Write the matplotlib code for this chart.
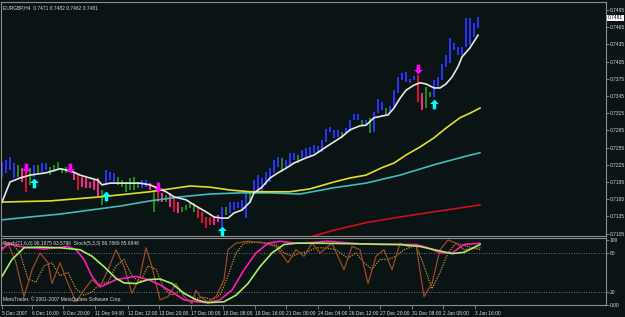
import numpy as np
import matplotlib
matplotlib.use("Agg")
import matplotlib.pyplot as plt
from matplotlib.path import Path

plt.rcParams["font.family"] = ["Liberation Sans", "DejaVu Sans"]

# Data (EURGBP H4, bar index 0..119)
highs = [
    0.7230, 0.7233, 0.7239, 0.7228, 0.7225, 0.7219, 0.7212, 0.7219, 0.7225, 0.7225,
    0.7228, 0.7228, 0.7221, 0.7225, 0.7230, 0.7219, 0.7221, 0.7225, 0.7212, 0.7211,
    0.7204, 0.7202, 0.7195, 0.7199, 0.7202, 0.7181, 0.7216, 0.7212, 0.7211, 0.7204,
    0.7199, 0.7195, 0.7202, 0.7204, 0.7195, 0.7199, 0.7199, 0.7193, 0.7181, 0.7181,
    0.7176, 0.7172, 0.7176, 0.7167, 0.7160, 0.7151, 0.7155, 0.7160, 0.7158, 0.7150,
    0.7143, 0.7134, 0.7134, 0.7134, 0.7138, 0.7151, 0.7151, 0.7160, 0.7160, 0.7160,
    0.7164, 0.7176, 0.7178, 0.7199, 0.7207, 0.7202, 0.7212, 0.7219, 0.7233, 0.7239,
    0.7237, 0.7233, 0.7246, 0.7246, 0.7242, 0.7251, 0.7254, 0.7256, 0.7260, 0.7258,
    0.7268, 0.7287, 0.7291, 0.7286, 0.7286, 0.7282, 0.7289, 0.7303, 0.7314, 0.7314,
    0.7303, 0.7303, 0.7307, 0.7317, 0.7340, 0.7335, 0.7324, 0.7328, 0.7355, 0.7378,
    0.7385, 0.7387, 0.7375, 0.7380, 0.7382, 0.7350, 0.7361, 0.7352, 0.7373, 0.7378,
    0.7401, 0.7417, 0.7446, 0.7437, 0.7430, 0.7430, 0.7481, 0.7481, 0.7472, 0.7483,
]
lows = [
    0.7204, 0.7211, 0.7216, 0.7202, 0.7204, 0.7195, 0.7178, 0.7190, 0.7204, 0.7211,
    0.7212, 0.7216, 0.7207, 0.7212, 0.7216, 0.7211, 0.7211, 0.7212, 0.7199, 0.7181,
    0.7186, 0.7185, 0.7185, 0.7181, 0.7169, 0.7155, 0.7190, 0.7199, 0.7193, 0.7190,
    0.7186, 0.7178, 0.7181, 0.7181, 0.7185, 0.7185, 0.7186, 0.7181, 0.7143, 0.7160,
    0.7160, 0.7160, 0.7151, 0.7143, 0.7141, 0.7143, 0.7146, 0.7150, 0.7143, 0.7132,
    0.7124, 0.7115, 0.7120, 0.7120, 0.7125, 0.7117, 0.7138, 0.7141, 0.7146, 0.7150,
    0.7146, 0.7132, 0.7160, 0.7176, 0.7181, 0.7176, 0.7190, 0.7195, 0.7211, 0.7221,
    0.7212, 0.7221, 0.7225, 0.7233, 0.7228, 0.7237, 0.7239, 0.7240, 0.7246, 0.7247,
    0.7247, 0.7265, 0.7282, 0.7272, 0.7274, 0.7272, 0.7281, 0.7282, 0.7303, 0.7303,
    0.7293, 0.7294, 0.7281, 0.7282, 0.7315, 0.7321, 0.7310, 0.7317, 0.7326, 0.7350,
    0.7373, 0.7369, 0.7368, 0.7373, 0.7335, 0.7321, 0.7324, 0.7343, 0.7343, 0.7361,
    0.7373, 0.7396, 0.7403, 0.7425, 0.7417, 0.7417, 0.7430, 0.7434, 0.7448, 0.7464,
]
bar_kind = ("bbbbgprgbg" "bbggggggpr" "pppppgbbbg" "gggggbbpgr" "pgprpggggr"
            "rrrppbgbbb" "bbgbbbbbbb" "gbbbgbbbbb" "bbbbbgbbbb" "gbgbbbgbbb"
            "bbbbrpggbb" "bbbbbbbbbb")

# moving averages (bar index, price)
white_x = [0, 2, 4.5, 7, 11, 14.5, 16, 18, 19.5, 22, 24, 25, 27, 34.5, 37, 39, 41, 43, 46, 48,
           51, 53, 55, 56.5, 58, 60, 62, 63, 65, 67, 69, 71, 73, 76, 78, 81, 83, 85, 87, 89.5,
           91, 93, 95, 96.5, 98, 99.5, 101, 103, 104.5, 106, 108, 109.5, 111, 112.5, 114, 115,
           117, 119]
white_y = [0.7160, 0.7195, 0.7202, 0.7207, 0.7211, 0.7218, 0.7216, 0.7212, 0.7207, 0.7202,
           0.7198, 0.7190, 0.7193, 0.7193, 0.7190, 0.7184, 0.7178, 0.7169, 0.7164, 0.7155,
           0.7143, 0.7134, 0.7132, 0.7132, 0.7141, 0.7146, 0.7160, 0.7176, 0.7186, 0.7202,
           0.7211, 0.7219, 0.7228, 0.7237, 0.7242, 0.7256, 0.7265, 0.7274, 0.7286, 0.7293,
           0.7294, 0.7307, 0.7310, 0.7312, 0.7324, 0.7341, 0.7355, 0.7364, 0.7368, 0.7366,
           0.7359, 0.7359, 0.7366, 0.7378, 0.7396, 0.7413, 0.7429, 0.7451]
yellow_x = [0, 12, 24.5, 37, 42, 47, 52, 57, 62, 72, 77, 83, 87, 91, 95, 98, 101, 104.5,
            108, 111, 114.5, 117, 119.5]
yellow_y = [0.7160, 0.7162, 0.7169, 0.7178, 0.7183, 0.7188, 0.7186, 0.7181, 0.7178, 0.7178,
            0.7183, 0.7195, 0.7202, 0.7207, 0.7220, 0.7228, 0.7242, 0.7256, 0.7272, 0.7289,
            0.7307, 0.7315, 0.7324]
teal_x = [0, 7, 14.5, 22, 29.5, 37, 44.5, 52, 59.5, 67, 74.5, 83, 91, 99.5, 108, 116, 119.5]
teal_y = [0.7129, 0.7134, 0.7139, 0.7146, 0.7153, 0.7162, 0.7169, 0.7174, 0.7176, 0.7176,
          0.7174, 0.7185, 0.7193, 0.7207, 0.7225, 0.7240, 0.7246]
red_x = [74.5, 79, 83, 91, 99.5, 108, 119.5]
red_y = [0.7094, 0.7103, 0.7111, 0.7124, 0.7134, 0.7143, 0.7155]

# signal arrows (bar index, price)
sell_x = [6, 17, 39, 104]
sell_y = [0.7220, 0.7220, 0.7187, 0.7392]
buy_x = [8, 26, 55, 108]
buy_y = [0.7194, 0.7171, 0.7110, 0.7331]

# stochastics
st21_main_x = [0, 1.5, 4.5, 7.5, 10.5, 13.5, 16.5, 18.5, 20.5, 22.5, 24.5, 26.5, 28.5, 30.5,
               33.5, 36.5, 39.5, 42.5, 45.5, 48.5, 51.5, 54.5, 57.5, 60.5, 63.5, 66.5, 69.5,
               73.5, 77.5, 81.5, 85.5, 89.5, 94.5, 99.5, 103.5, 106.5, 109.5, 112.5, 115.5,
               119.5]
st21_main_y = [85, 94, 90, 88, 86, 88, 90, 85, 70, 44, 28, 33, 39, 41, 44, 39, 31, 20, 8, 5,
               3.5, 8, 23, 54, 80, 95, 98, 95, 96, 98, 96, 94, 93, 93, 93, 88, 80, 80, 93, 95]
st21_sig_x = [0, 2.5, 5.5, 9.5, 14.5, 19.5, 22.5, 25.5, 28.5, 30.5, 33.5, 36.5, 39.5, 42.5,
              45.5, 48.5, 51.5, 55.5, 58.5, 61.5, 64.5, 67.5, 70.5, 73.5, 79.5, 89.5, 99.5,
              104.5, 109.5, 112.5, 115.5, 119.5]
st21_sig_y = [44, 70, 88, 89, 88, 85, 75, 59, 41, 34, 33, 39, 40, 33, 18, 8, 3.5, 5, 15, 33,
              59, 80, 93, 95, 95, 94, 93, 90, 83, 79, 81, 93]
st5_main_x = [0, 1.5, 3.5, 5.5, 7.5, 9.5, 11.5, 12.5, 14.5, 16.5, 18.5, 20.5, 22.5, 24.5, 26.5,
              28.5, 30.5, 32.5, 34.5, 36, 37.5, 39.5, 41.5, 43.5, 45.5, 47.5, 48.5, 49.5, 51.5,
              53.5, 55.5, 56.5, 58.5, 61.5, 65.5, 68.5, 71.5, 73.5, 75.5, 77.5, 79.5, 82.5,
              85.5, 87.5, 89.5, 91.5, 93.5, 95.5, 97.5, 99.5, 101.5, 103.5, 105.5, 107.5,
              109.5, 111.5, 113.5, 115.5, 119.5]
st5_main_y = [95, 95, 65, 13, 54, 80, 65, 33, 65, 33, 5, 23, 39, 28, 54, 85, 59, 18, 44, 88,
              59, 8, 13, 33, 13, 2, 23, 13, 5, 13, 39, 85, 95, 98, 95, 90, 65, 85, 75, 95, 80,
              95, 54, 90, 85, 33, 75, 85, 54, 95, 90, 93, 13, 33, 85, 100, 95, 85, 88]
st5_sig_x = [0, 2.5, 4.5, 6.5, 8.5, 10.5, 12.5, 14.5, 16.5, 18.5, 20.5, 22.5, 24.5, 26.5,
             28.5, 30.5, 32.5, 34.5, 36.5, 38.5, 40.5, 42.5, 44.5, 46.5, 48.5, 50.5, 52.5,
             54.5, 56.5, 58.5, 60.5, 64.5, 68.5, 70.5, 72.5, 74.5, 76.5, 78.5, 80.5, 83.5,
             86.5, 88.5, 90.5, 92.5, 94.5, 96.5, 98.5, 100.5, 103.5, 105.5, 107.5, 109.5,
             111.5, 113.5, 116.5, 119.5]
st5_sig_y = [88, 95, 80, 40, 35, 60, 65, 45, 50, 25, 15, 20, 33, 35, 60, 70, 45, 35, 60, 55,
             25, 15, 22, 15, 10, 12, 8, 15, 45, 80, 95, 97, 93, 80, 75, 80, 82, 88, 88, 85,
             72, 80, 65, 55, 70, 70, 75, 85, 92, 60, 25, 50, 80, 95, 90, 85]

price_ticks = [0.7495, 0.7465, 0.7435, 0.7405, 0.7375, 0.7345, 0.7315, 0.7285, 0.7255,
               0.7225, 0.7195, 0.7165, 0.7135, 0.7105]
time_pos = [-0.1, 7.5, 15.25, 23.25, 31.5, 39.25, 47.25, 55.25, 63.25, 71, 79, 86.75,
            94.5, 102.5, 110.25, 118.25]
time_labels = ["5 Dec 2007", "6 Dec 16:00", "9 Dec 20:00", "11 Dec 04:00", "12 Dec 12:00",
               "13 Dec 20:00", "17 Dec 00:00", "18 Dec 08:00", "19 Dec 16:00", "21 Dec 00:00",
               "24 Dec 04:00", "26 Dec 12:00", "27 Dec 20:00", "31 Dec 08:00", "2 Jan 08:00",
               "3 Jan 16:00"]
last_price = 0.7481

BG = "#0b1414"
GRID = "#8c8c8c"
TXT = "#d8d8d8"
FS = 3.5
kind_colors = {"b": "#2a35ff", "r": "#e0102c", "p": "#ff2a8c", "g": "#1f8a1f"}

W, H = 625, 317
fig = plt.figure(figsize=(W / 100, H / 100), dpi=100, facecolor=BG)
ax = fig.add_axes([1 / W, 1 - 236 / H, 605 / W, 234 / H], facecolor=BG)
sub = fig.add_axes([1 / W, 1 - 305 / H, 605 / W, 67 / H], facecolor=BG)

for a in (ax, sub):
    for s in a.spines.values():
        s.set_color(GRID)
        s.set_linewidth(0.8)
    a.set_xlim(-0.25, 151)
    a.yaxis.tick_right()
    a.tick_params(axis="y", colors=GRID, length=2, width=0.6, pad=0.8, labelsize=FS,
                  labelcolor=TXT)
ax.spines["bottom"].set_linestyle((0, (2, 1)))
sub.spines["top"].set_linestyle((0, (2, 1)))

# price bars
idx = np.arange(len(highs))
cols = [kind_colors[k] for k in bar_kind]
ax.vlines(idx, lows, highs, colors=cols, linewidth=1.4)

# moving averages
ax.plot(red_x, red_y, color="#c8101e", lw=1.2)
ax.plot(teal_x, teal_y, color="#3cbcbc", lw=1.2)
ax.plot(yellow_x, yellow_y, color="#e0e020", lw=1.2)
ax.plot(white_x, white_y, color="#e6e6e6", lw=1.2)

# arrows
up_arrow = Path([(0, 1), (-0.9, 0.1), (-0.35, 0.1), (-0.35, -1), (0.35, -1), (0.35, 0.1),
                 (0.9, 0.1), (0, 1)], closed=True)
down_arrow = Path(up_arrow.vertices * [1, -1], closed=True)
ax.plot(sell_x, sell_y, linestyle="none", marker=down_arrow, markersize=7,
        color="#ff00ff", markeredgewidth=0)
ax.plot(buy_x, buy_y, linestyle="none", marker=up_arrow, markersize=7,
        color="#00ffff", markeredgewidth=0)

ax.set_ylim(0.71008, 0.75089)
ax.set_yticks(price_ticks)
ax.set_yticklabels([f"{p:.4f}" for p in price_ticks])
ax.set_xticks([])
ax.text(0.004, 0.988, "EURGBP,H4  0.7471 0.7482 0.7462 0.7481", transform=ax.transAxes,
        color=TXT, fontsize=FS, va="top", ha="left")
ax.text(1.003, last_price, f"{last_price:.4f}", transform=ax.get_yaxis_transform(),
        color="black", fontsize=FS, va="center", ha="left",
        bbox=dict(boxstyle="square,pad=0.15", fc="white", ec="none"))

# stochastic window
sub.axhline(80, color=GRID, lw=0.6, ls=(0, (1, 2)))
sub.axhline(20, color=GRID, lw=0.6, ls=(0, (1, 2)))
sub.plot(st5_sig_x, st5_sig_y, color="#c8902a", lw=0.9, ls=(0, (1, 1)))
sub.plot(st5_main_x, st5_main_y, color="#9a4a2a", lw=0.9)
sub.plot(st21_main_x, st21_main_y, color="#ff1ab4", lw=1.2)
sub.plot(st21_sig_x, st21_sig_y, color="#a6ee6a", lw=1.2)
sub.set_ylim(0, 103)
sub.set_yticks([100, 80, 20, 0])
sub.set_yticklabels(["100", "80", "20", "0.00"])
sub.set_xticks(time_pos)
sub.set_xticklabels(time_labels, ha="left")
sub.tick_params(axis="x", colors=GRID, length=3, width=0.6, pad=1, labelsize=FS,
                labelcolor=TXT)
sub.text(0.004, 0.96, "Stoch(21,6,6) 96.1875 93.5796  Stoch(5,3,3) 86.7869 85.6948",
         transform=sub.transAxes, color=TXT, fontsize=FS, va="top", ha="left")
sub.text(0.004, 0.05, "MetaTrader, \u00a9 2001-2007 MetaQuotes Software Corp.",
         transform=sub.transAxes, color=TXT, fontsize=FS, va="bottom", ha="left")

fig.savefig("out.png", dpi=100, facecolor=BG)
